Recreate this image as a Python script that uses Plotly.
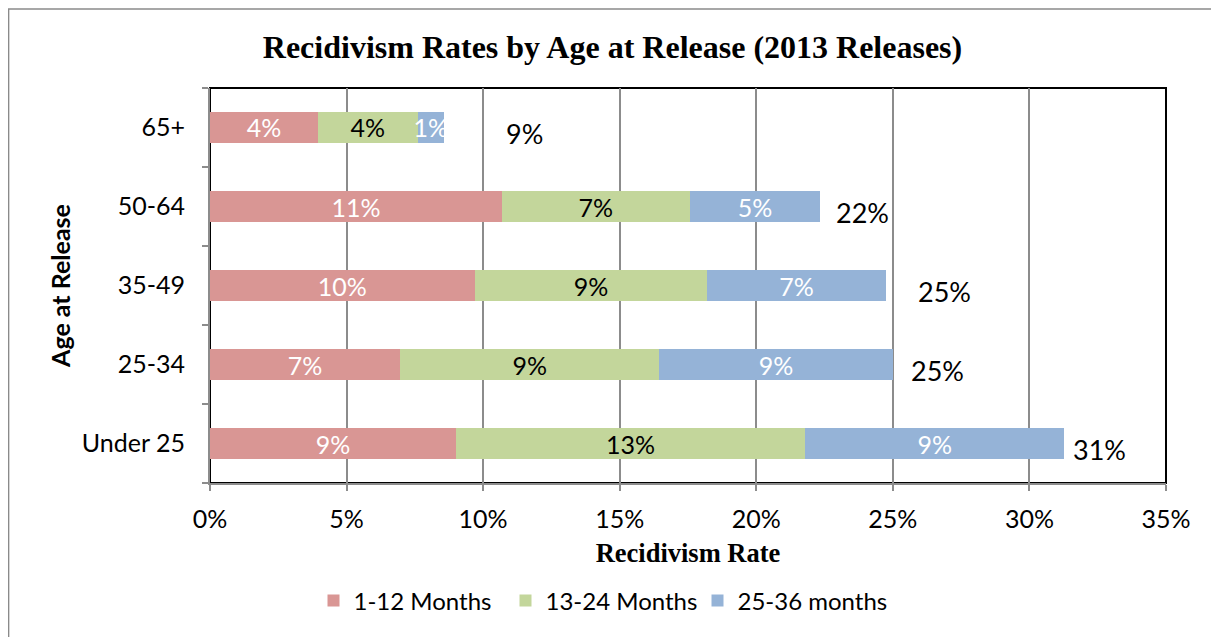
import plotly.graph_objects as go

# ---- data ----
categories = ["Under 25", "25-34", "35-49", "50-64", "65+"]
series_names = ["1-12 Months", "13-24 Months", "25-36 months"]
m1_12 = [9.00, 6.96, 9.69, 10.69, 3.95]
m13_24 = [12.79, 9.49, 8.52, 6.87, 3.65]
m25_36 = [9.48, 8.55, 6.53, 4.78, 0.97]
total_label_x = [32.55, 26.65, 26.9, 23.9, 11.5]
x_ticks = [0, 5, 10, 15, 20, 25, 30, 35]
x_tick_labels = ["0%", "5%", "10%", "15%", "20%", "25%", "30%", "35%"]

colors = ["#D99694", "#C3D69B", "#95B3D7"]
text_colors = ["white", "black", "white"]

W, H = 1219, 637
DX, DY = 7.5, 6  # page offset of the rendered figure
ML = 209.5 - DX
MT = 86 - DY
MR = W - (1166 - DX)
MB = H - (481 - DY)
PW, PH = W - ML - MR, H - MT - MB

SANS = "Lato"
SERIF = "Liberation Serif"

fig = go.Figure()
for name, vals, c, tc in zip(series_names, [m1_12, m13_24, m25_36], colors, text_colors):
    fig.add_trace(go.Bar(
        y=categories, x=vals, name=name, orientation="h",
        marker=dict(color=c, line=dict(width=0)),
        texttemplate="%{x:.0f}%", textposition="inside",
        insidetextanchor="middle", textangle=0, constraintext="none",
        insidetextfont=dict(family=SANS, size=25, color=tc),
        hoverinfo="skip",
    ))

totals = [a + b + c for a, b, c in zip(m1_12, m13_24, m25_36)]
for cat, t, lx in zip(categories, totals, total_label_x):
    fig.add_annotation(x=lx, y=cat, text=f"{round(t)}%", showarrow=False,
                       xanchor="center", yanchor="middle", yshift=-6,
                       font=dict(family=SANS, size=27, color="black"))

# plot area border (top/right black)
fig.add_shape(type="rect", xref="paper", yref="paper", x0=0, x1=1, y0=0, y1=1,
              line=dict(color="black", width=2), layer="below")
# outer chart border
bx0 = (0.5 - ML) / PW
bx1 = (1211 - ML) / PW
by1 = (H - MB - 1) / PH
by0 = -(MB + 20) / PH
fig.add_shape(type="rect", xref="paper", yref="paper", x0=bx0, x1=bx1, y0=by0, y1=by1,
              line=dict(color="#8a8a8a", width=1.5), layer="below")

fig.update_layout(
    width=W, height=H,
    margin=dict(l=ML, r=MR, t=MT, b=MB, autoexpand=False),
    paper_bgcolor="white", plot_bgcolor="white",
    barmode="stack", bargap=0.61,
    title=dict(text="Recidivism Rates by Age at Release (2013 Releases)",
               x=(612 - DX) / W, xref="container", xanchor="center",
               y=1 - (45 - DY) / H, yref="container", yanchor="middle",
               font=dict(family=SERIF, size=32, color="black", weight="bold")),
    showlegend=True,
    legend=dict(orientation="h", xref="container", yref="container",
                x=(601 - DX) / W, xanchor="center", y=1 - (599 - DY) / H, yanchor="middle",
                font=dict(family=SANS, size=24, color="black"),
                traceorder="normal", entrywidth=147, itemwidth=30),
    xaxis=dict(range=[0, 35], tickvals=x_ticks, ticktext=x_tick_labels,
               showgrid=True, gridcolor="#8c8c8c", gridwidth=1.5,
               showline=True, linecolor="#8c8c8c", linewidth=2,
               ticks="outside", ticklen=6, tickcolor="#8c8c8c", tickwidth=1.5,
               ticklabelstandoff=7,
               tickfont=dict(family=SANS, size=25, color="black"),
               zeroline=False,
               title=dict(text="Recidivism Rate", standoff=11,
                          font=dict(family=SERIF, size=26.5, color="black", weight="bold"))),
    yaxis=dict(categoryorder="array", categoryarray=categories,
               showgrid=False, showline=True, linecolor="#8c8c8c", linewidth=2,
               ticks="outside", ticklen=6, tickcolor="#8c8c8c", tickwidth=1.5,
               tickson="boundaries", ticklabelstandoff=18,
               tickfont=dict(family=SANS, size=25, color="black"),
               title=dict(text="Age at Release", standoff=4,
                          font=dict(family=SANS, size=25, color="black", weight="bold"))),
)

fig.write_html("out.html")
